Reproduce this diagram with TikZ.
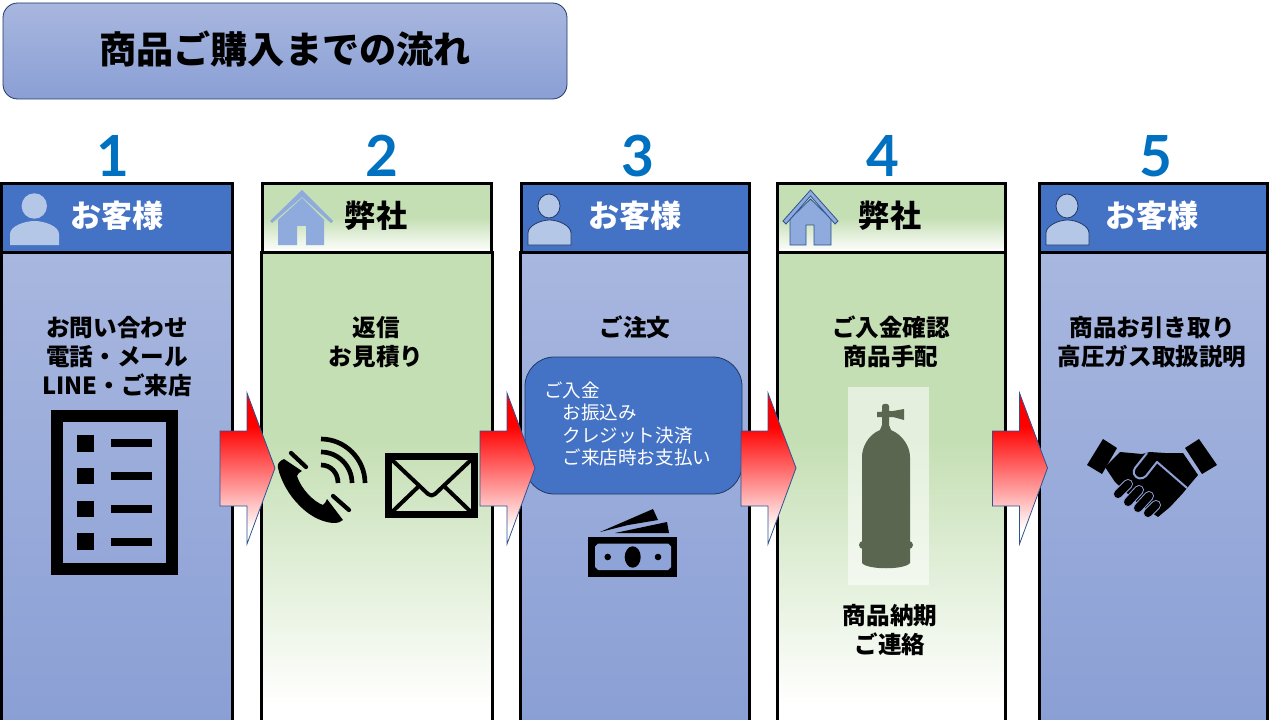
\documentclass[tikz,border=0pt]{standalone}
\usepackage{fontspec}
\setmainfont{Noto Sans CJK JP}
\newfontfamily\numfont{Lato}

\definecolor{bluehead}{HTML}{4472C4}
\definecolor{bluetop}{HTML}{A8B7DF}
\definecolor{bluelow}{HTML}{8A9FD5}
\definecolor{greenfill}{HTML}{C5DFB4}
\definecolor{lineblue}{HTML}{2F528F}
\definecolor{darkline}{HTML}{203864}
\definecolor{numblue}{HTML}{0070C0}
\definecolor{houseblue}{HTML}{8FAADC}
\definecolor{personblue}{HTML}{B4C7E7}
\definecolor{tankgreen}{HTML}{5A6650}

\pgfdeclareverticalshading{greenpanel}{100bp}{color(0bp)=(white);color(27bp)=(white);color(55bp)=(greenfill);color(100bp)=(greenfill)}
\pgfdeclareverticalshading{greenhead}{100bp}{color(0bp)=(white);color(25bp)=(white);color(50bp)=(greenfill);color(100bp)=(greenfill)}
\pgfdeclareverticalshading{arrowfade}{100bp}{color(0bp)=(white);color(30bp)=(white);color(64bp)=(red);color(100bp)=(red)}

\tikzset{
  panelline/.style={draw=black,line width=2.25pt},
  bluepanel/.style={panelline,top color=bluetop,bottom color=bluelow},
  greenbox/.style={panelline,shading=greenpanel},
  bluetitle/.style={panelline,fill=bluehead},
  greentitle/.style={panelline,shading=greenhead},
  numlabel/.style={text=numblue,font=\numfont\fontsize{42.5}{48}\selectfont\bfseries},
  headlabel/.style={font=\fontsize{23.3}{28}\selectfont\bfseries},
  steplabel/.style={align=center,font=\fontsize{17.7}{21.75}\selectfont\bfseries},
  icon/.style={fill=black,draw=none},
  outlined/.style={fill=personblue,draw=darkline,line width=.6pt},
  flowarrow/.style={shading=arrowfade,draw=lineblue,line width=.6pt},
}

\newcommand{\flowshape}[1]{%
  \begin{scope}[shift={(#1,0)}]
    \path[flowarrow] (220,431) -- (247,431) -- (247,393) -- (275,468) -- (247,544) -- (247,506) -- (220,506) -- cycle;
  \end{scope}}

\newcommand{\personshape}[2]{%
  \begin{scope}[shift={(#1,0)}]
    \path[#2] (21,206) ellipse (11 and 12);
    \path[#2] (0,245) -- (0,233) .. controls (0,226) and (12,220) .. (21.5,220) .. controls (31,220) and (43,226) .. (43,233) -- (43,245) -- cycle;
  \end{scope}}

\begin{document}
\begin{tikzpicture}[x=.75pt,y=-.75pt]
\useasboundingbox (0,0) rectangle (1280,720);

% title
\path[draw=darkline,line width=.6pt,top color=bluetop,bottom color=bluelow,rounded corners=11pt] (3,3) rectangle (567,99);
\node[font=\fontsize{27.9}{32}\selectfont\bfseries] (title) at (285,48.5) {商品ご購入までの流れ};

% numbers
\node[numlabel] (numA) at (113,156) {1};
\node[numlabel] (numB) at (381.5,156) {2};
\node[numlabel] (numC) at (638,156) {3};
\node[numlabel] (numD) at (883,156) {4};
\node[numlabel] (numE) at (1156,156) {5};

% panels
\path[bluepanel] (1,252) rectangle (232,724);
\path[greenbox] (261,252) rectangle (492,724);
\path[bluepanel] (520,252) rectangle (749,724);
\path[greenbox] (777,252) rectangle (1005,724);
\path[bluepanel] (1039,252) rectangle (1267,724);

\path[bluetitle] (1,184) rectangle (232,252);
\path[greentitle] (262,184) rectangle (491,252);
\path[bluetitle] (521,184) rectangle (749,252);
\path[greentitle] (777,184) rectangle (1005,252);
\path[bluetitle] (1039,184) rectangle (1267,252);

% heads
\node[headlabel,text=white] (headA) at (117,215.5) {お客様};
\node[headlabel] (headB) at (376,215.5) {弊社};
\node[headlabel,text=white] (headC) at (635,215.5) {お客様};
\node[headlabel] (headD) at (890,215.5) {弊社};
\node[headlabel,text=white] (headE) at (1152,215.5) {お客様};

% persons
\path[fill=personblue] (34.3,206) circle (12.7);
\path[fill=personblue] (10,245) -- (10,234) .. controls (10,226) and (25,221) .. (34.5,221) .. controls (44,221) and (59,226) .. (59,234) -- (59,245) -- cycle;
\personshape{528}{outlined}
\personshape{1046}{outlined}

% houses
\path[fill=houseblue] (278,245) -- (278,220) -- (302,198) -- (324,220) -- (324,245) -- (306,245) -- (306,226) -- (297,226) -- (297,245) -- cycle;
\path[fill=houseblue] (270,221) -- (302,190) -- (333,221) -- (331,223) -- (302,197) -- (272,223) -- cycle;
\path[fill=houseblue,draw=lineblue,line width=.6pt] (790,245) -- (790,219) -- (810.5,199) -- (831,219) -- (831,245) -- (814,245) -- (814,225) -- (806,225) -- (806,245) -- cycle;
\path[fill=houseblue,draw=lineblue,line width=.6pt] (783,221) -- (810.5,190) -- (838,221) -- (835,224) -- (810.5,196) -- (786,224) -- cycle;

% texts
\node[steplabel] (askA) at (117,356.5) {お問い合わせ\\電話・メール\\LINE・ご来店};
\node[steplabel] (replyB) at (376,342) {返信\\お見積り};
\node[steplabel] (orderC) at (635,327.5) {ご注文};
\node[steplabel] (payD) at (891,342) {ご入金確認\\商品手配};
\node[steplabel] (dateD) at (890,630) {商品納期\\ご連絡};
\node[steplabel] (pickE) at (1152,342) {商品お引き取り\\高圧ガス取扱説明};

% list
\path[draw=black,line width=9pt] (57,416) rectangle (172,569);
\path[icon] (77.3,435) rectangle (94,451.7);
\path[icon] (77.3,467.7) rectangle (94,484.3);
\path[icon] (77.3,500.7) rectangle (94,517.3);
\path[icon] (77.3,533.3) rectangle (94,550);
\path[icon] (110.7,439.3) rectangle (151.7,447.3);
\path[icon] (110.7,472) rectangle (151.7,480);
\path[icon] (110.7,504.7) rectangle (151.7,512.7);
\path[icon] (110.7,537.7) rectangle (151.7,545.7);

% phone
\path[icon] (284,459) .. controls (279,461) and (277,464) .. (278,468) .. controls (281,481) and (289,495) .. (298,504) .. controls (307,514) and (320,522) .. (333,523) .. controls (338,523) and (341,522) .. (343,520) -- (327,499) .. controls (326,501) and (325,504) .. (323,505) .. controls (314,502) and (301,489) .. (297,476) .. controls (297,474) and (300,472) .. (302,471) -- cycle;
\draw[line width=3.2pt,line cap=round] (291,453) -- (306,467);
\draw[line width=3.2pt,line cap=round] (333,496) -- (349,510);
\draw[line width=3.5pt] (321,439) .. controls (345,439) and (365,459) .. (365,483);
\draw[line width=3.5pt] (321,452) .. controls (338,452) and (352,466) .. (352,483);
\draw[line width=3.5pt] (321,465) .. controls (331,465) and (338,473) .. (338,483);

% envelope
\path[draw=black,line width=5pt] (388.5,456.5) rectangle (474.5,514.5);
\draw[line width=3pt,line join=round] (391,459) -- (428,494) .. controls (430,496) and (433,496) .. (435,494) -- (472,459);
\draw[line width=3pt] (392,512) -- (418,487);
\draw[line width=3pt] (471,512) -- (445,487);

% bubble
\path[draw=darkline,line width=.6pt,fill=bluehead,rounded corners=22pt] (525,357) rectangle (742,494);
\node[anchor=west,align=left,text=white,font=\fontsize{13.9}{16.8}\selectfont] (payC) at (539.6,424) {ご入金\\\hspace*{1em}お振込み\\\hspace*{1em}クレジット決済\\\hspace*{1em}ご来店時お支払い};

% money
\path[icon] (600,532) -- (653,509) -- (658,520) -- (628,525) -- cycle;
\path[icon] (615,533) -- (667,522) -- (669,533) -- cycle;
\path[icon] (588,537) rectangle (677,577);
\path[fill=bluelow!85!bluetop] (598,543.5) -- (668,543.5) -- (671,546.5) -- (671,567) -- (668,570) -- (598,570) -- (595,567) -- (595,546.5) -- cycle;
\path[icon] (632.7,557) ellipse (8 and 10.7);
\path[icon] (607.7,557) circle (3.3);
\path[icon] (658,557) circle (3.3);

% tank
\path[fill=white,fill opacity=.55] (848,387) rectangle (929,585);
\path[fill=tankgreen] (862,560) -- (862,457) .. controls (862,447) and (868,435) .. (880,430) -- (882,425) -- (882,406) .. controls (882,403) and (889,403) .. (889,406) -- (889,425) -- (891,430) .. controls (903,435) and (910,447) .. (910,457) -- (910,563) .. controls (905,570) and (867,570) .. (862,563) -- cycle;
\path[fill=tankgreen] (877,412) -- (893,411) -- (904,409) -- (904,420) -- (893,417) -- (877,417) -- cycle;
\path[fill=tankgreen,rounded corners=3pt] (859,541) rectangle (913,549);

% handshake
\path[icon] (1103,439) -- (1117,448) -- (1102,474) -- (1087,465) -- cycle;
\path[icon] (1199,439) -- (1185,448) -- (1202,474) -- (1217,465) -- cycle;
\path[icon] (1120,452) -- (1142,454) -- (1150,452) -- (1165,453) -- (1183,453) -- (1198,475) -- (1187,488) -- (1183,493) -- (1170,507) -- (1158,517) -- (1140,505) -- (1115,482) -- (1105,467) -- cycle;
\draw[bluelow!90!bluetop,line width=1.5pt,line join=round] (1187,488) -- (1157,462) -- (1146,476) .. controls (1142,480) and (1136,479) .. (1134,474) .. controls (1133,472) and (1134,470) .. (1135,468) -- (1147,453);
\draw[bluelow!90!bluetop,line width=7.5pt,line cap=round] (1118,494) -- (1128,484);
\draw[bluelow!90!bluetop,line width=7.5pt,line cap=round] (1128,502) -- (1139,490);
\draw[bluelow!90!bluetop,line width=7.5pt,line cap=round] (1138,508) -- (1149,496);
\draw[bluelow!90!bluetop,line width=7.5pt,line cap=round] (1148,513) -- (1156,505);
\draw[line width=6pt,line cap=round] (1118,494) -- (1128,484);
\draw[line width=6pt,line cap=round] (1128,502) -- (1139,490);
\draw[line width=6pt,line cap=round] (1138,508) -- (1149,496);
\draw[line width=6pt,line cap=round] (1148,513) -- (1156,505);

% arrows
\flowshape{0}
\flowshape{260}
\flowshape{521}
\flowshape{772.5}

\end{tikzpicture}
\end{document}
